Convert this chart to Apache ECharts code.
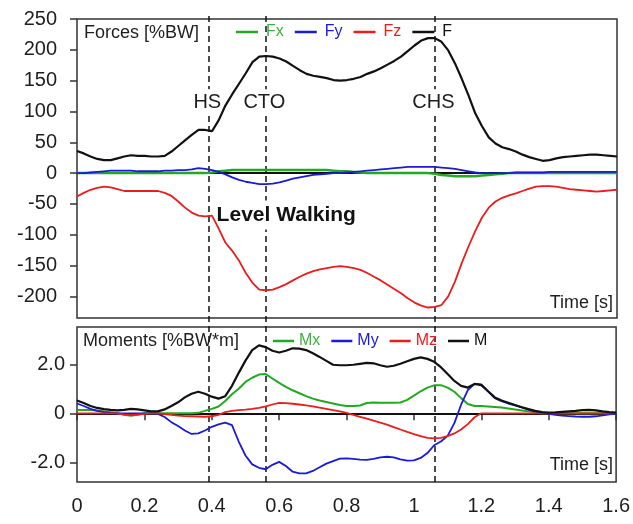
<!DOCTYPE html>
<html>
<head>
    <meta charset="utf-8" />
    <title>Level Walking</title>
    <script src="https://cdn.jsdelivr.net/npm/echarts@6/dist/echarts.min.js"></script>
    <style>body{margin:0;background:#fff;}</style>
</head>
<body>
<div id="main" style="width:633px;height:524px"></div>
<script>
    // time [s], one sample every 0.02 s
    var time = [0,0.02,0.04,0.06,0.08,0.1,0.12,0.14,0.16,0.18,
        0.2,0.22,0.24,0.26,0.28,0.3,0.32,0.34,0.36,0.38,
        0.4,0.42,0.44,0.46,0.48,0.5,0.52,0.54,0.56,0.58,
        0.6,0.62,0.64,0.66,0.68,0.7,0.72,0.74,0.76,0.78,
        0.8,0.82,0.84,0.86,0.88,0.9,0.92,0.94,0.96,0.98,
        1,1.02,1.04,1.06,1.08,1.1,1.12,1.14,1.16,1.18,
        1.2,1.22,1.24,1.26,1.28,1.3,1.32,1.34,1.36,1.38,
        1.4,1.42,1.44,1.46,1.48,1.5,1.52,1.54,1.56,1.58,
        1.6];

    // forces [%BW]
    var Fx = [0,0,0,0,0,0,0,0,0,0,
        0,0,0,0,0,0,0,0,0,0,
        1,3,4,5,5,5,5,5,5,5,
        5,5,5,5,5,5,5,5,4,3,
        3,2,1,0,0,0,0,0,0,0,
        0,0,0,-1,-3,-4,-5,-5,-5,-5,
        -4,-3,-2,-1,0,0,0,0,0,0,
        0,0,0,0,0,0,0,0,0,0,
        0];
    var Fy = [0,0,1,2,3,4,4,4,4,3,
        3,3,3,4,4,5,5,6,8,7,
        5,2,-2,-7,-11,-14,-16,-18,-18,-17,
        -15,-12,-9,-7,-5,-3,-2,-1,0,0,
        1,2,3,4,5,6,7,8,9,10,
        10,10,10,10,9,8,7,5,3,1,
        0,0,0,0,0,1,1,1,1,1,
        2,2,2,2,2,2,2,2,2,2,
        2];
    var Fz = [-38,-32,-27,-24,-22,-23,-26,-29,-29,-29,
        -29,-29,-29,-32,-37,-46,-56,-64,-69,-70,
        -69,-90,-113,-126,-142,-162,-178,-189,-190,-189,
        -185,-180,-174,-168,-163,-159,-156,-154,-152,-151,
        -152,-154,-157,-162,-168,-174,-181,-188,-195,-203,
        -210,-215,-218,-217,-214,-200,-176,-146,-119,-94,
        -72,-56,-46,-40,-36,-33,-29,-25,-22,-21,
        -21,-22,-24,-26,-27,-28,-29,-30,-29,-28,
        -27];
    var F = [36,32,27,23,21,21,24,27,29,28,
        28,27,27,28,35,44,53,62,70,70,
        68,86,110,128,145,162,180,189,190,189,
        186,181,174,167,161,158,156,154,151,150,
        151,153,156,161,165,170,176,182,189,198,
        207,215,219,219,213,199,178,153,126,97,
        76,58,48,42,39,35,30,26,23,20,
        21,24,26,27,28,29,30,30,29,28,
        27];

    // moments [%BW*m]
    var Mx = [0.14,0.14,0.14,0.12,0.08,0.04,0,-0.06,-0.1,-0.06,
        0,0,0,0,0,0,0,0,0.02,0.1,
        0.18,0.28,0.5,0.78,1.0,1.28,1.45,1.58,1.6,1.42,
        1.24,1.08,0.94,0.82,0.7,0.6,0.52,0.46,0.4,0.34,
        0.3,0.3,0.32,0.42,0.44,0.43,0.43,0.43,0.44,0.55,
        0.72,0.9,1.05,1.14,1.15,1.05,0.88,0.62,0.38,0.3,
        0.3,0.28,0.26,0.24,0.2,0.16,0.12,0.08,0.04,0,
        0,0,0,0,0,0,0,0,0,0,
        0];
    var My = [0.4,0.3,0.18,0.1,0.05,0.02,0,0,0,0,
        0,0,-0.02,-0.15,-0.36,-0.52,-0.7,-0.84,-0.82,-0.7,
        -0.55,-0.45,-0.38,-0.48,-1.15,-1.72,-2.08,-2.22,-2.28,-2.1,
        -1.98,-2.15,-2.38,-2.45,-2.45,-2.35,-2.2,-2.05,-1.95,-1.85,
        -1.84,-1.86,-1.89,-1.9,-1.86,-1.8,-1.77,-1.8,-1.88,-1.93,
        -1.92,-1.82,-1.62,-1.3,-1.15,-0.92,-0.4,0.35,0.95,1.2,
        1.18,0.9,0.62,0.5,0.4,0.32,0.24,0.15,0.08,0.02,
        -0.02,-0.06,-0.09,-0.11,-0.13,-0.14,-0.14,-0.12,-0.08,-0.04,
        -0.02];
    var Mz = [0,0,0,0,0,0,0,-0.05,-0.07,-0.05,
        -0.02,0,0,-0.03,-0.06,-0.09,-0.11,-0.12,-0.13,-0.14,
        -0.12,-0.06,0.05,0.1,0.13,0.15,0.18,0.22,0.28,0.36,
        0.43,0.42,0.39,0.36,0.32,0.28,0.23,0.18,0.13,0.08,
        0.02,-0.06,-0.14,-0.22,-0.3,-0.38,-0.46,-0.56,-0.66,-0.76,
        -0.85,-0.93,-1.0,-1.02,-1.0,-0.93,-0.82,-0.66,-0.44,-0.16,
        0,0,0,0,0,0,0,0,0,0,
        0,0,0,0,0,0,0,0,0,0,
        0];
    var M = [0.52,0.42,0.3,0.22,0.17,0.14,0.12,0.14,0.18,0.16,
        0.12,0.08,0.08,0.16,0.3,0.45,0.65,0.8,0.88,0.8,
        0.68,0.6,0.7,1.12,1.65,2.15,2.58,2.77,2.7,2.55,
        2.48,2.55,2.65,2.64,2.58,2.45,2.3,2.14,1.98,1.96,
        1.96,1.98,2.02,2.06,2.04,1.96,1.9,1.94,2.02,2.12,
        2.22,2.28,2.22,2.1,1.88,1.6,1.32,1.12,1.05,1.2,
        1.15,0.9,0.65,0.52,0.43,0.34,0.25,0.17,0.1,0.05,
        0.03,0.04,0.06,0.08,0.1,0.13,0.14,0.12,0.08,0.05,
        0.03];

    // gait events
    var eventTimes = [0.386, 0.555, 1.056];
    var eventNames = ['HS', 'CTO', 'CHS'];

    var forceTicks = [-200, -150, -100, -50, 0, 50, 100, 150, 200, 250];
    var momentTicks = [-2, 0, 2];

    var font = '"Liberation Sans", Arial, sans-serif';
    var green = '#22a822', blue = '#1a1ad8', red = '#ea1c1c', black = '#111111';
    var textCol = '#1e1e1e';

    function pairs(v) {
        return time.map(function (t, i) { return [t, v[i]]; });
    }

    function curve(name, v, color, grid, width) {
        return {
            name: name, type: 'line', xAxisIndex: grid, yAxisIndex: grid,
            data: pairs(v), symbol: 'none', color: color,
            lineStyle: {color: color, width: width}, z: 3
        };
    }

    var zeroLine = {
        symbol: 'none', silent: true, label: {show: false}, z: 3,
        lineStyle: {type: 'solid', color: black, width: 2},
        data: [{yAxis: 0}]
    };

    var seriesList = [
        curve('Fx', Fx, green, 0, 2.5),
        curve('Fy', Fy, blue, 0, 1.8),
        curve('Fz', Fz, red, 0, 1.8),
        curve('F', F, black, 0, 2.2),
        curve('Mx', Mx, green, 1, 2),
        curve('My', My, blue, 1, 1.8),
        curve('Mz', Mz, red, 1, 1.8),
        curve('M', M, black, 1, 2.2)
    ];
    seriesList[0].markLine = zeroLine;
    seriesList[4].markLine = zeroLine;

    // dashed event lines across both panels (drawn lowest)
    seriesList.push({
        type: 'line', xAxisIndex: 2, yAxisIndex: 2, data: [], z: 1,
        markLine: {
            symbol: 'none', silent: true, label: {show: false}, z: 1,
            lineStyle: {type: [6, 4], color: black, width: 1.5},
            data: eventTimes.map(function (t) { return {xAxis: t}; })
        }
    });

    // event names and panel caption: above the dashed lines, below the curves
    var hidden = {color: 'rgba(0,0,0,0)', opacity: 1};
    seriesList.push({
        type: 'scatter', xAxisIndex: 0, yAxisIndex: 0, z: 2,
        symbolSize: 1, itemStyle: hidden,
        data: eventTimes.map(function (t, i) { return {name: eventNames[i], value: [t, 115]}; }),
        label: {
            show: true, position: 'inside', formatter: '{b}',
            fontSize: 20, color: textCol, fontFamily: font,
            backgroundColor: '#fff', padding: [3, 1]
        }
    });
    seriesList.push({
        type: 'scatter', xAxisIndex: 0, yAxisIndex: 0, z: 2,
        symbolSize: 1, itemStyle: hidden,
        data: [{name: 'Level Walking', value: [0.62, -68]}],
        label: {
            show: true, position: 'inside', formatter: '{b}',
            fontSize: 21, fontWeight: 'bold', color: '#111', fontFamily: font,
            backgroundColor: '#fff', padding: [4, 2]
        }
    });

    function legendItems(names, colors) {
        return names.map(function (n, i) { return {name: n, textStyle: {color: colors[i]}}; });
    }

    var titleStyle = {fontSize: 18, fontWeight: 'normal', color: textCol, fontFamily: font};

    var option = {
        animation: false,
        backgroundColor: '#fff',
        textStyle: {fontFamily: font},
        title: [
            {text: 'Forces [%BW]', left: 84, top: 24, padding: 0, textStyle: titleStyle},
            {text: 'Moments [%BW*m]', left: 83, top: 332, padding: 0, textStyle: titleStyle},
            {text: 'Time [s]', right: 20, top: 294, padding: 0, textStyle: titleStyle},
            {text: 'Time [s]', right: 20, top: 456, padding: 0, textStyle: titleStyle}
        ],
        legend: [
            {
                data: legendItems(['Fx', 'Fy', 'Fz', 'F'], ['#3cb43c', blue, red, black]),
                left: 236, top: 24, padding: 0, icon: 'rect', itemWidth: 22, itemHeight: 2.5, itemGap: 11,
                selectedMode: false, textStyle: {fontSize: 16, fontFamily: font, padding: [0, 0, 0, 3]}
            },
            {
                data: legendItems(['Mx', 'My', 'Mz', 'M'], ['#3cb43c', blue, red, black]),
                left: 273, top: 333, padding: 0, icon: 'rect', itemWidth: 21, itemHeight: 2.5, itemGap: 11,
                selectedMode: false, textStyle: {fontSize: 16, fontFamily: font}
            }
        ],
        grid: [
            {left: 77, width: 540, top: 19, height: 299, show: true, borderColor: '#333', borderWidth: 1.5},
            {left: 77, width: 540, top: 327, height: 155, show: true, borderColor: '#333', borderWidth: 1.5},
            {left: 77, width: 540, top: 16, height: 466}
        ],
        xAxis: [
            {gridIndex: 0, type: 'value', min: 0, max: 1.6, show: false},
            {
                gridIndex: 1, type: 'value', min: 0, max: 1.6, interval: 0.2,
                axisLine: {show: false},
                axisTick: {length: 7, lineStyle: {color: '#333', width: 1.5}},
                axisLabel: {fontSize: 20, color: textCol, margin: 14},
                splitLine: {show: false}
            },
            {gridIndex: 2, type: 'value', min: 0, max: 1.6, show: false}
        ],
        yAxis: [
            {
                gridIndex: 0, type: 'value', min: -235, max: 250,
                axisLine: {show: false},
                axisTick: {show: true, customValues: forceTicks, length: 7, lineStyle: {color: '#333', width: 1.5}},
                axisLabel: {customValues: forceTicks, fontSize: 20, color: textCol, margin: 20},
                splitLine: {show: false}
            },
            {
                gridIndex: 1, type: 'value', min: -2.8, max: 3.52,
                axisLine: {show: false},
                axisTick: {show: true, customValues: momentTicks, length: 7, lineStyle: {color: '#333', width: 1.5}},
                axisLabel: {
                    customValues: momentTicks, fontSize: 20, color: textCol, margin: 12,
                    formatter: function (v) { return v === 0 ? '0' : v.toFixed(1); }
                },
                splitLine: {show: false}
            },
            {gridIndex: 2, type: 'value', min: 0, max: 1, show: false}
        ],
        series: seriesList
    };

    var myChart = echarts.init(document.getElementById('main'));
    myChart.setOption(option);
</script>
</body>
</html>
